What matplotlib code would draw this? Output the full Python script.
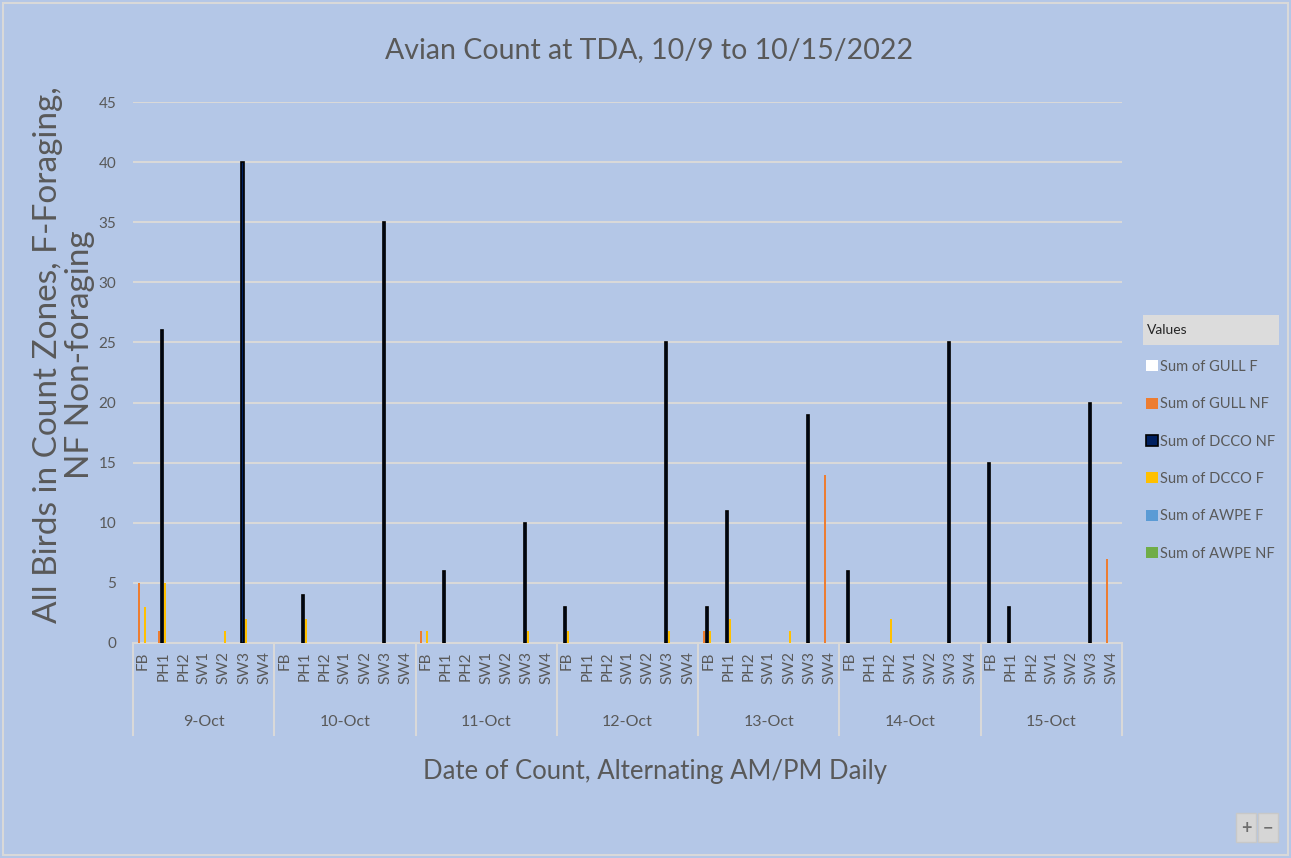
import matplotlib.pyplot as plt
import numpy as np
from matplotlib.patches import Rectangle, Patch

plt.rcParams['font.family'] = ['Lato', 'DejaVu Sans']

days = ["9-Oct", "10-Oct", "11-Oct", "12-Oct", "13-Oct", "14-Oct", "15-Oct"]
zones = ["FB", "PH1", "PH2", "SW1", "SW2", "SW3", "SW4"]

# one row per day, columns follow zones
gull_f = [[0, 0, 0, 0, 0, 0, 0]] * 7
gull_nf = [
    [5, 1, 0, 0, 0, 0, 0],
    [0, 0, 0, 0, 0, 0, 0],
    [1, 0, 0, 0, 0, 0, 0],
    [0, 0, 0, 0, 0, 0, 0],
    [1, 0, 0, 0, 0, 0, 14],
    [0, 0, 0, 0, 0, 0, 0],
    [0, 0, 0, 0, 0, 0, 7],
]
dcco_nf = [
    [0, 26, 0, 0, 0, 40, 0],
    [0, 4, 0, 0, 0, 35, 0],
    [0, 6, 0, 0, 0, 10, 0],
    [3, 0, 0, 0, 0, 25, 0],
    [3, 11, 0, 0, 0, 19, 0],
    [6, 0, 0, 0, 0, 25, 0],
    [15, 3, 0, 0, 0, 20, 0],
]
dcco_f = [
    [3, 5, 0, 0, 1, 2, 0],
    [0, 2, 0, 0, 0, 0, 0],
    [1, 0, 0, 0, 0, 1, 0],
    [1, 0, 0, 0, 0, 1, 0],
    [1, 2, 0, 0, 1, 0, 0],
    [0, 0, 2, 0, 0, 0, 0],
    [0, 0, 0, 0, 0, 0, 0],
]
awpe_f = [[0, 0, 0, 0, 0, 0, 0]] * 7
awpe_nf = [[0, 0, 0, 0, 0, 0, 0]] * 7

series = [
    ("Sum of GULL F", gull_f, "white", "white"),
    ("Sum of GULL NF", gull_nf, "#ED7D31", "#ED7D31"),
    ("Sum of DCCO NF", dcco_nf, "#002060", "black"),
    ("Sum of DCCO F", dcco_f, "#FFC000", "#FFC000"),
    ("Sum of AWPE F", awpe_f, "#5B9BD5", "#5B9BD5"),
    ("Sum of AWPE NF", awpe_nf, "#70AD47", "#70AD47"),
]

bg = "#B4C7E7"
txt = "#595959"
W, H = 1291, 858

fig = plt.figure(figsize=(W / 100, H / 100), dpi=100, facecolor=bg)
ax = fig.add_axes([133 / W, 1 - 643 / H, (1122 - 133) / W, (643 - 102) / H])
ax.set_facecolor(bg)

n = len(days) * len(zones)
x = np.arange(n)
slot = 0.15
handles = []
for i, (name, vals, fc, ec) in enumerate(series):
    h = np.array(vals).ravel()
    # only outline bars that actually have height
    lw = np.where(h > 0, 1.2, 0) if ec == "black" else 0
    ax.bar(x + (i - 2.5) * slot, h, width=0.1, color=fc, edgecolor=ec,
           linewidth=lw, zorder=3)
    handles.append(Patch(facecolor=fc, edgecolor=ec,
                         linewidth=1.2 if ec == "black" else 0, label=name))

ax.set_xlim(-0.5, n - 0.5)
ax.set_ylim(0, 45)
ax.set_yticks(range(0, 46, 5))
ax.yaxis.grid(True, color="#D9D9D9", linewidth=1.5, zorder=0)
ax.set_axisbelow(True)
for s in ["top", "right", "left"]:
    ax.spines[s].set_visible(False)
ax.spines["bottom"].set_color("#D9D9D9")
ax.spines["bottom"].set_linewidth(1.5)
ax.tick_params(axis="y", length=0, labelsize=11, labelcolor=txt, pad=12)
ax.set_xticks(x)
ax.set_xticklabels(zones * len(days), rotation=90, va="top", ha="center")
ax.tick_params(axis="x", length=0, labelsize=11, labelcolor=txt, pad=6)

# second level of the category axis
tr = ax.get_xaxis_transform()
for k in range(len(days) + 1):
    xs = -0.5 + 7 * k
    ax.plot([xs, xs], [0, -0.17], transform=tr, color="#D9D9D9", lw=1.5,
            clip_on=False)
for k, d in enumerate(days):
    ax.text(3 + 7 * k, -0.146, d, transform=tr, ha="center", va="center",
            fontsize=11.5, color=txt)

fig.text(649 / W, 1 - 50 / H, "Avian Count at TDA, 10/9 to 10/15/2022",
         ha="center", va="center", fontsize=20.5, color=txt)
fig.text(64 / W, 1 - 355 / H,
         "All Birds in Count Zones, F-Foraging,\nNF Non-foraging",
         rotation=90, ha="center", va="center", fontsize=24, color=txt,
         linespacing=1.1, multialignment="center")
fig.text(655 / W, 1 - 772 / H, "Date of Count, Alternating AM/PM Daily",
         ha="center", va="center", fontsize=18.5, color=txt)

# legend with a header strip
fig.patches.append(Rectangle((1143 / W, 1 - 345 / H), 136 / W, 30 / H,
                             transform=fig.transFigure, facecolor="#DCDCDC",
                             edgecolor="none"))
fig.text(1147 / W, 1 - 330 / H, "Values", ha="left", va="center",
         fontsize=10, color="#262626")
leg = fig.legend(handles=handles, loc="upper left",
                 bbox_to_anchor=(1140 / W, 1 - 354 / H), frameon=False,
                 fontsize=10.5, labelcolor=txt, handlelength=0.8,
                 handleheight=0.8, handletextpad=0.2, labelspacing=1.6,
                 borderaxespad=0)

# +/- buttons
for bx, sym in [(1236, "+"), (1258, "\u2212")]:
    fig.patches.append(Rectangle((bx / W, 1 - 842 / H), 20 / W, 29 / H,
                                 transform=fig.transFigure,
                                 facecolor="#D6D6D6", edgecolor="#C8C8C8"))
    fig.text((bx + 10) / W, 1 - 828 / H, sym, ha="center", va="center",
             fontsize=13, color="#6E6E6E", fontweight="bold")

fig.patches.append(Rectangle((3 / W, 3 / H), (W - 6) / W, (H - 6) / H,
                             transform=fig.transFigure, facecolor="none",
                             edgecolor="#D9D9D9", linewidth=1.5))

fig.savefig("out.png", dpi=100, facecolor=bg)
